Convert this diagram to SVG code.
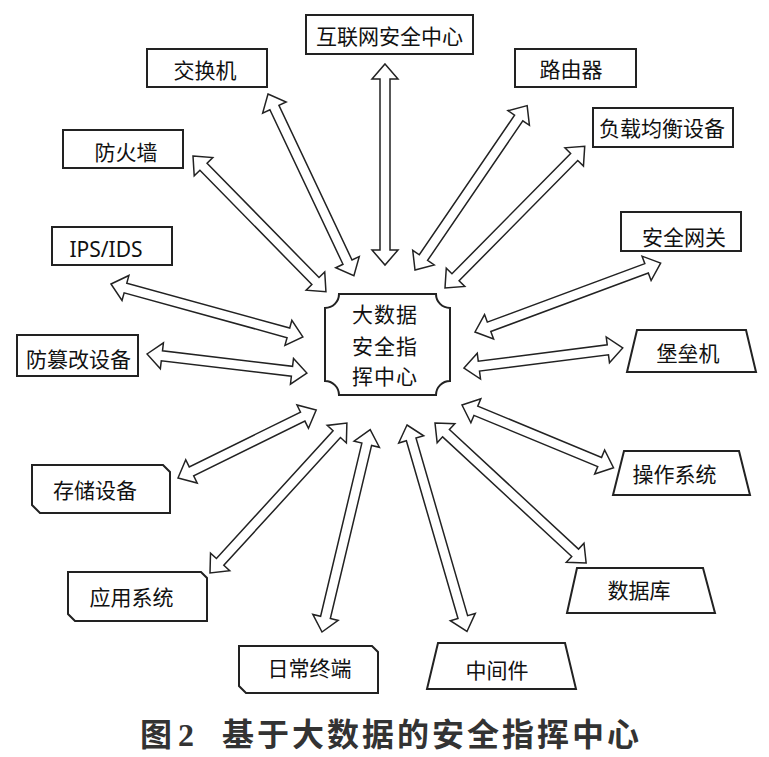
<svg xmlns="http://www.w3.org/2000/svg" width="769" height="757" viewBox="0 0 769 757">
<style>
.bg{fill:#fff}
.box{fill:#fff;stroke:#222;stroke-width:2}
.arr{fill:#fff;stroke:#222;stroke-width:1.5;stroke-linejoin:miter}
.lbl{font-family:"Noto Sans CJK SC","Noto Sans",sans-serif;font-size:21px;fill:#111;text-anchor:middle}
.lat{font-family:"Noto Sans","Liberation Sans",sans-serif;font-size:21px;fill:#111;text-anchor:middle}
.ctr{font-family:"Noto Sans CJK SC",sans-serif;font-size:21px;fill:#111;letter-spacing:1px}
.cap{font-family:"Noto Sans CJK SC",sans-serif;font-size:32px;font-weight:bold;fill:#333}
</style>
<rect class="bg" x="0" y="0" width="769" height="757"/>
<g id="connectors">
<path class="arr" transform="translate(385,64) rotate(90)" d="M0,0 L15,-13 L15,-5 L186,-5 L186,-13 L201,0 L186,13 L186,5 L15,5 L15,13 Z"/>
<path class="arr" transform="translate(268,94) rotate(64.7)" d="M0,0 L15,-13 L15,-5 L186,-5 L186,-13 L201,0 L186,13 L186,5 L15,5 L15,13 Z"/>
<path class="arr" transform="translate(193,156) rotate(45.6)" d="M0,0 L15,-13 L15,-5 L175,-5 L175,-13 L190,0 L175,13 L175,5 L15,5 L15,13 Z"/>
<path class="arr" transform="translate(111,284) rotate(15.4)" d="M0,0 L15,-13 L15,-5 L184,-5 L184,-13 L199,0 L184,13 L184,5 L15,5 L15,13 Z"/>
<path class="arr" transform="translate(147,354) rotate(6.8)" d="M0,0 L15,-13 L15,-5 L146,-5 L146,-13 L161,0 L146,13 L146,5 L15,5 L15,13 Z"/>
<path class="arr" transform="translate(178,478) rotate(-26.2)" d="M0,0 L15,-13 L15,-5 L139,-5 L139,-13 L154,0 L139,13 L139,5 L15,5 L15,13 Z"/>
<path class="arr" transform="translate(210,573) rotate(-47.6)" d="M0,0 L15,-13 L15,-5 L188,-5 L188,-13 L203,0 L188,13 L188,5 L15,5 L15,13 Z"/>
<path class="arr" transform="translate(322,632) rotate(-76.6)" d="M0,0 L15,-13 L15,-5 L193,-5 L193,-13 L208,0 L193,13 L193,5 L15,5 L15,13 Z"/>
<path class="arr" transform="translate(407,425) rotate(73.8)" d="M0,0 L15,-13 L15,-5 L200,-5 L200,-13 L215,0 L200,13 L200,5 L15,5 L15,13 Z"/>
<path class="arr" transform="translate(435,423) rotate(42.8)" d="M0,0 L15,-13 L15,-5 L191,-5 L191,-13 L206,0 L191,13 L191,5 L15,5 L15,13 Z"/>
<path class="arr" transform="translate(462,405) rotate(22.5)" d="M0,0 L15,-13 L15,-5 L149,-5 L149,-13 L164,0 L149,13 L149,5 L15,5 L15,13 Z"/>
<path class="arr" transform="translate(464,368) rotate(-7.2)" d="M0,0 L15,-13 L15,-5 L145,-5 L145,-13 L160,0 L145,13 L145,5 L15,5 L15,13 Z"/>
<path class="arr" transform="translate(475,332) rotate(-20.35)" d="M0,0 L15,-13 L15,-5 L183,-5 L183,-13 L198,0 L183,13 L183,5 L15,5 L15,13 Z"/>
<path class="arr" transform="translate(445,288) rotate(-45.4)" d="M0,0 L15,-13 L15,-5 L184,-5 L184,-13 L199,0 L184,13 L184,5 L15,5 L15,13 Z"/>
<path class="arr" transform="translate(415,270) rotate(-55.7)" d="M0,0 L15,-13 L15,-5 L184,-5 L184,-13 L199,0 L184,13 L184,5 L15,5 L15,13 Z"/>
</g>
<g id="center">
<path class="box" d="M339,294 L436,294 A14,14 0 0,0 450,308 L450,381 A14,14 0 0,0 436,395 L339,395 A14,14 0 0,0 325,381 L325,308 A14,14 0 0,0 339,294 Z"/>
<text class="ctr" x="352" y="322">大数据</text>
<text class="ctr" x="352" y="354">安全指</text>
<text class="ctr" x="352" y="384">挥中心</text>
</g>
<g id="n-internet"><rect class="box" x="306" y="15" width="167" height="39"/><text class="lbl" x="389.5" y="43.5">互联网安全中心</text></g>
<g id="n-switch"><rect class="box" x="147" y="49" width="120" height="38"/><text class="lbl" x="205" y="77.5">交换机</text></g>
<g id="n-firewall"><rect class="box" x="63" y="130" width="120" height="38"/><text class="lbl" x="126" y="159.5">防火墙</text></g>
<g id="n-ips"><rect class="box" x="52" y="227" width="120" height="38"/><text class="lat" x="106" y="257">IPS/IDS</text></g>
<g id="n-router"><rect class="box" x="515" y="49" width="121" height="38"/><text class="lbl" x="571" y="76.5">路由器</text></g>
<g id="n-lb"><rect class="box" x="593" y="108" width="140" height="39"/><text class="lbl" x="662" y="135.5">负载均衡设备</text></g>
<g id="n-gateway"><rect class="box" x="621" y="212" width="120" height="39"/><text class="lbl" x="684" y="244.5">安全网关</text></g>
<g id="n-tamper"><rect class="box" x="17" y="335" width="121" height="41"/><text class="lbl" x="78.5" y="366.5">防篡改设备</text></g>
<g id="n-storage"><path class="box" d="M32,465 L163,465 L170,472 L170,513 L40,513 L32,505 Z"/><text class="lbl" x="95" y="497.5">存储设备</text></g>
<g id="n-app"><path class="box" d="M68,572 L201,572 L207,578 L207,621 L75,621 L68,614 Z"/><text class="lbl" x="131.5" y="605">应用系统</text></g>
<g id="n-terminal"><path class="box" d="M239,646 L372,646 L378,652 L378,693 L246,693 L239,686 Z"/><text class="lbl" x="309.5" y="676">日常终端</text></g>
<g id="n-bastion"><path class="box" d="M637,330 L746,330 L756,372 L627,372 Z"/><text class="lbl" x="688" y="360.5">堡垒机</text></g>
<g id="n-os"><path class="box" d="M624,451 L739,451 L750,495 L613,495 Z"/><text class="lbl" x="674.5" y="482">操作系统</text></g>
<g id="n-db"><path class="box" d="M577,568 L703,568 L715,613 L567,613 Z"/><text class="lbl" x="639" y="598">数据库</text></g>
<g id="n-middleware"><path class="box" d="M438,643 L565,643 L576,689 L427,689 Z"/><text class="lbl" x="497" y="677.5">中间件</text></g>
<g id="caption">
<text class="cap" x="140" y="746">图<tspan font-family="Liberation Serif,serif" dx="6">2</tspan></text>
<text class="cap" x="222" y="746" letter-spacing="3">基于大数据的安全指挥中心</text>
</g>
</svg>
